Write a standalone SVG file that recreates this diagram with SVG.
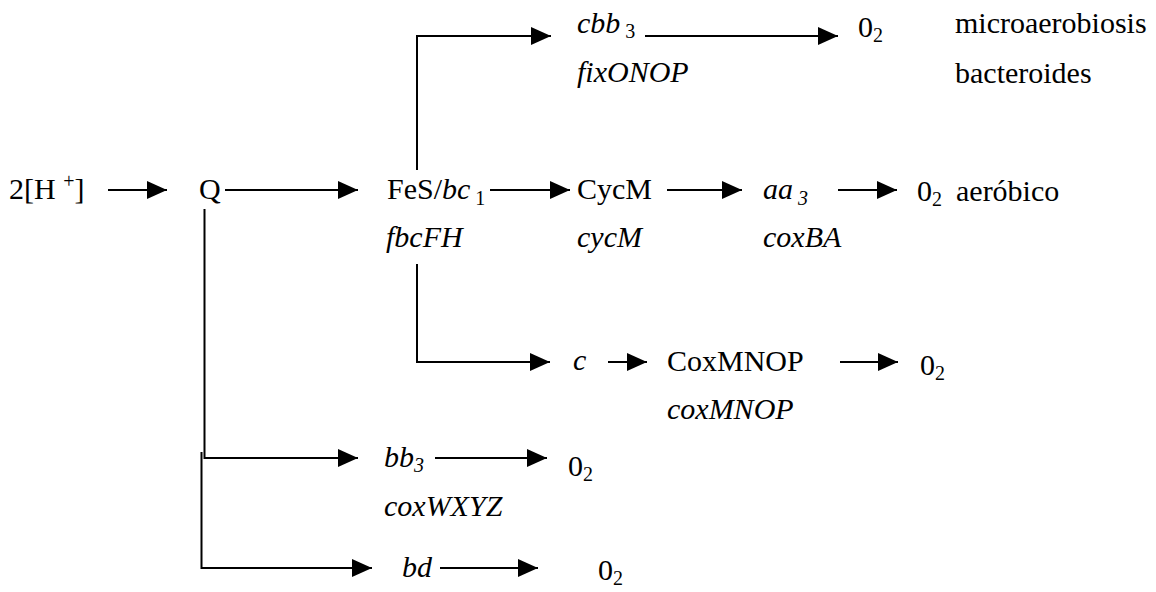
<svg xmlns="http://www.w3.org/2000/svg" width="1156" height="592" viewBox="0 0 1156 592">
  <style>
    text { font-family: "Liberation Serif", "Times New Roman", serif; font-size: 30px; fill: #000; }
    .i { font-style: italic; }
    .sub { font-size: 20px; }
    .wire { fill: none; stroke: #000; stroke-width: 2; }
  </style>
  <defs>
    <marker id="ah" viewBox="0 0 20 18" refX="20" refY="9" markerWidth="20" markerHeight="18" markerUnits="userSpaceOnUse" orient="auto">
      <path d="M0,0 L20,9 L0,18 z" fill="#000"/>
    </marker>
  </defs>
  <rect width="1156" height="592" fill="#fff"/>

  <!-- connectors -->
  <g id="connectors" class="wire">
    <path d="M108,190 H167" marker-end="url(#ah)"/>
    <path d="M225,190 H358" marker-end="url(#ah)"/>
    <path d="M490,190 H570" marker-end="url(#ah)"/>
    <path d="M667,190 H742" marker-end="url(#ah)"/>
    <path d="M838,190 H897" marker-end="url(#ah)"/>
    <path d="M417,170 V36 H551" marker-end="url(#ah)"/>
    <path d="M645,36 H838" marker-end="url(#ah)"/>
    <path d="M417,264 V362 H550" marker-end="url(#ah)"/>
    <path d="M608,362 H647" marker-end="url(#ah)"/>
    <path d="M840,362 H898" marker-end="url(#ah)"/>
    <path d="M204.5,209 V458 H358" marker-end="url(#ah)"/>
    <path d="M435,458 H547" marker-end="url(#ah)"/>
    <path d="M201.5,452 V568 H372" marker-end="url(#ah)"/>
    <path d="M440,568 H538" marker-end="url(#ah)"/>
  </g>

  <!-- electron donor and quinone pool -->
  <g id="donor">
    <text x="9" y="199">2[H <tspan class="sub" dy="-11">+</tspan><tspan dy="11">]</tspan></text>
  </g>
  <g id="quinone">
    <text x="199" y="199">Q</text>
  </g>

  <!-- bc1 complex -->
  <g id="bc1">
    <text x="387" y="199">FeS/<tspan class="i">bc</tspan><tspan class="sub" dy="6"> 1</tspan></text>
    <text class="i" x="386" y="247">fbcFH</text>
  </g>

  <!-- cbb3 branch -->
  <g id="cbb3">
    <text x="577" y="33"><tspan class="i">cbb</tspan><tspan class="sub" dy="5"> 3</tspan></text>
    <text class="i" x="577" y="82">fixONOP</text>
  </g>
  <g id="o2-cbb3">
    <text x="858" y="37">0<tspan class="sub" dy="5">2</tspan></text>
  </g>
  <g id="label-micro">
    <text x="955" y="33">microaerobiosis</text>
    <text x="955" y="83">bacteroides</text>
  </g>

  <!-- aerobic branch -->
  <g id="cycM">
    <text x="577" y="199">CycM</text>
    <text class="i" x="577" y="247">cycM</text>
  </g>
  <g id="aa3">
    <text class="i" x="763" y="199">aa<tspan class="sub" dy="6"> 3</tspan></text>
    <text class="i" x="763" y="247">coxBA</text>
  </g>
  <g id="o2-aa3">
    <text x="917" y="201">0<tspan class="sub" dy="5">2</tspan></text>
    <text x="956" y="201">aeróbico</text>
  </g>

  <!-- cytochrome c / CoxMNOP branch -->
  <g id="cyt-c">
    <text class="i" x="573" y="370">c</text>
  </g>
  <g id="coxMNOP">
    <text x="667" y="371">CoxMNOP</text>
    <text class="i" x="667" y="419">coxMNOP</text>
  </g>
  <g id="o2-coxMNOP">
    <text x="920" y="375">0<tspan class="sub" dy="5">2</tspan></text>
  </g>

  <!-- bb3 branch -->
  <g id="bb3">
    <text class="i" x="384" y="467">bb<tspan class="sub" dy="5">3</tspan></text>
    <text class="i" x="384" y="516">coxWXYZ</text>
  </g>
  <g id="o2-bb3">
    <text x="568" y="476">0<tspan class="sub" dy="5">2</tspan></text>
  </g>

  <!-- bd branch -->
  <g id="bd">
    <text class="i" x="402" y="577">bd</text>
  </g>
  <g id="o2-bd">
    <text x="598" y="580">0<tspan class="sub" dy="5">2</tspan></text>
  </g>
</svg>
